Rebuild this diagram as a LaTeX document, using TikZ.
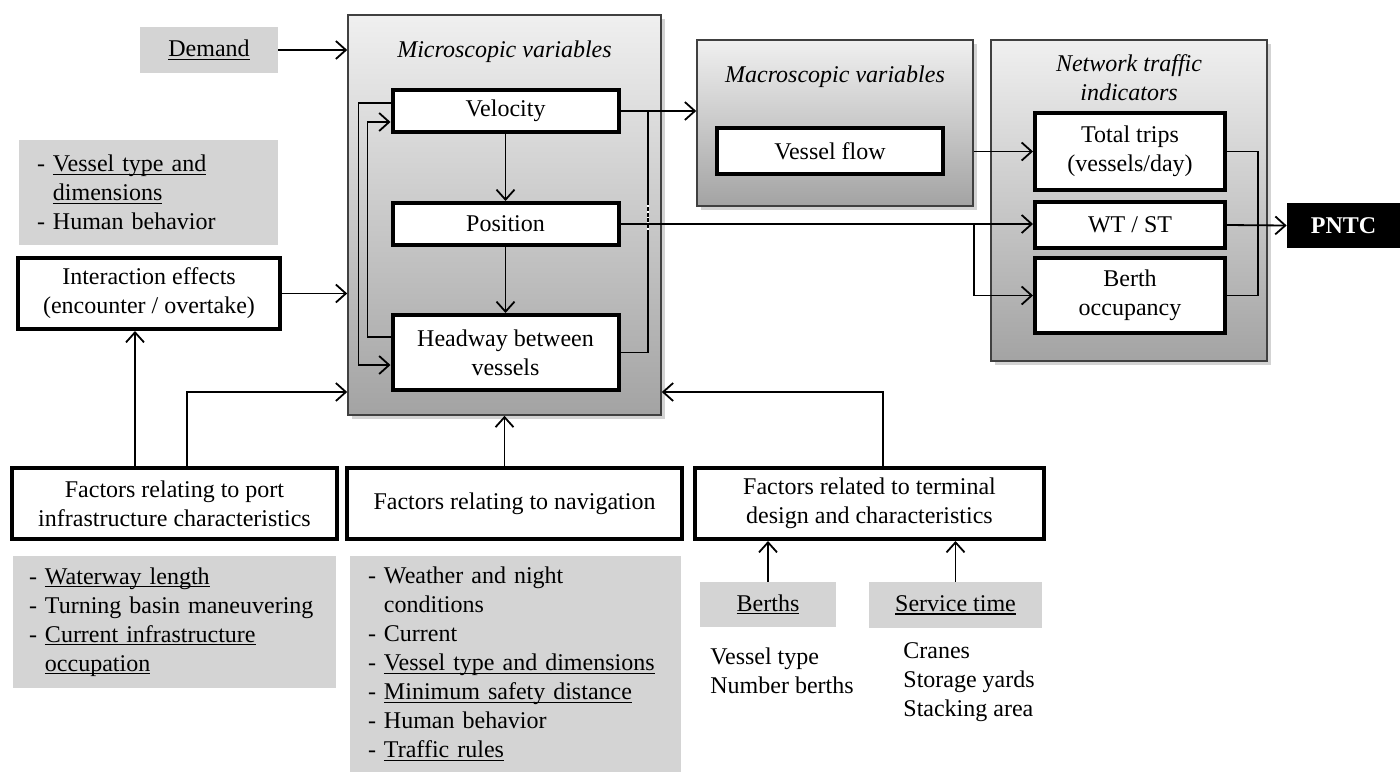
\documentclass[tikz,border=0pt]{standalone}
\usepackage{fontspec}
\setmainfont{Liberation Serif}
\usetikzlibrary{arrows.meta, shadows, calc}
\newcommand{\undl}[1]{\setbox0\hbox{#1}\rlap{\rule[-1.6pt]{\wd0}{0.55pt}}\box0}

\begin{document}
\begin{tikzpicture}[x=0.5pt, y=-0.5pt,
        font=\fontsize{12}{14.5}\selectfont,
        panel/.style={draw=black!75, line width=0.8pt, top color=black!6, bottom color=black!36,
            drop shadow={opacity=0.35, shadow xshift=2pt, shadow yshift=-2pt}},
        paneltitle/.style={align=center, inner sep=0pt, font=\fontsize{12}{14.5}\selectfont\itshape},
        var/.style={draw, line width=2pt, fill=white, align=center, inner sep=0pt},
        greybox/.style={fill=black!17, inner sep=0pt},
        itemlist/.style={align=left, inner sep=0pt, anchor=west},
        conn/.style={line width=0.9pt, -{Straight Barb[length=5pt, width=9pt]}},
        link/.style={line width=0.9pt}]
    \useasboundingbox (0,0) rectangle (1400,772);
    \def\hw{113pt}  % width of the variable boxes
    % panels
    \node[panel, minimum width=156.5pt, minimum height=200pt] (micro) at (504.5,215) {};
    \node[paneltitle] (microtitle) at (504.5,52) {Microscopic variables};
    \node[panel, minimum width=138pt, minimum height=83pt] (macro) at (835,123) {};
    \node[paneltitle] (macrotitle) at (835,77) {Macroscopic variables};
    \node[panel, minimum width=138pt, minimum height=160.5pt] (network) at (1129,200.5) {};
    \node[paneltitle] (nettitle) at (1129,78) {Network traffic\\indicators};
    % variables
    \node[var, minimum width=\hw, minimum height=21pt] (velocity) at (505.5,111) {Velocity};
    \node[var, minimum width=\hw, minimum height=21pt] (position) at (505.5,224) {Position};
    \node[var, minimum width=\hw, minimum height=37.5pt] (headway) at (505.5,352.5) {Headway between\\vessels};
    \node[var, minimum width=\hw, minimum height=23pt] (vflow) at (830,151) {Vessel flow};
    \node[var, minimum width=95pt, minimum height=38.5pt] (trips) at (1130,151.5) {Total trips\\(vessels/day)};
    \node[var, minimum width=95pt, minimum height=23pt] (wtst) at (1130,225) {WT / ST};
    \node[var, minimum width=95pt, minimum height=37.5pt] (berth) at (1130,295.5) {Berth\\occupancy};
    \node[fill=black, text=white, inner sep=0pt, minimum width=56.5pt, minimum height=22.5pt,
        font=\fontsize{12}{14.5}\selectfont\bfseries] (pntc) at (1343.5,225.5) {PNTC};
    % inputs
    \node[greybox, minimum width=69pt, minimum height=23pt] (demand) at (209,50) {\undl{Demand}};
    \node[greybox, align=left, text width=111.5pt, inner xsep=9pt, minimum height=52.5pt] (vtype) at (148.5,192.5)
        {- \undl{Vessel type and}\\\phantom{- }\undl{dimensions}\\- Human behavior};
    \node[var, minimum width=131pt, minimum height=35.5pt] (interact) at (149,293.5) {Interaction effects\\(encounter / overtake)};
    \node[var, minimum width=162.5pt, minimum height=35.5pt] (port) at (174.5,503.5) {Factors relating to port\\infrastructure characteristics};
    \node[var, minimum width=167.5pt, minimum height=35.5pt] (navig) at (514.5,503.5) {Factors relating to navigation};
    \node[var, minimum width=174.5pt, minimum height=35.5pt] (term) at (869.5,503.5) {Factors related to terminal\\design and characteristics};
    \node[greybox, align=left, text width=145.5pt, inner xsep=8pt, minimum height=66pt] (portlist) at (174.5,622)
        {- \undl{Waterway length}\\- Turning basin maneuvering\\- \undl{Current infrastructure}\\\phantom{- }\undl{occupation}};
    \node[greybox, align=left, text width=147.5pt, inner xsep=9pt, minimum height=108pt] (navlist) at (515.5,664)
        {- Weather and night\\\phantom{- }conditions\\- Current\\- \undl{Vessel type and dimensions}\\- \undl{Minimum safety distance}\\- Human behavior\\- \undl{Traffic rules}};
    \node[greybox, minimum width=68pt, minimum height=22.5pt] (berths) at (768,604.5) {\undl{Berths}};
    \node[greybox, minimum width=86.5pt, minimum height=23pt] (service) at (955.5,605) {\undl{Service time}};
    \node[itemlist] (berthitems) at (710,671) {Vessel type\\Number berths};
    \node[itemlist] (serviceitems) at (903,682) {Cranes\\Storage yards\\Stacking area};
    % connectors
    \draw[conn] (demand.east) -- (demand.east -| micro.west);
    \draw[conn] (interact.east) -- (interact.east -| micro.west);
    \draw[conn] ([xshift=-7pt]interact.south |- port.north) -- ([xshift=-7pt]interact.south);
    \draw[conn] ([xshift=6.25pt]port.north) |- (micro.west |- headway.south);
    \draw[conn] (navig.north -| micro.south) -- (micro.south);
    \draw[conn] ([xshift=6.75pt]term.north) |- (micro.east |- headway.south);
    \foreach \b in {berths, service}
        \draw[conn] (\b.north) -- (\b.north |- term.south);
    \draw[conn] (velocity) -- (position);
    \draw[conn] (position) -- (headway);
    \draw[conn] ([yshift=4pt]velocity.west) -- ++(-16pt,0) |- ([yshift=-6.25pt]headway.west);
    \draw[conn] ([yshift=7.75pt]headway.west) -- ++(-11.5pt,0) |- ([yshift=-5.5pt]velocity.west);
    \coordinate (tap) at (648,111);
    \draw[conn] (velocity.east) -- (velocity.east -| macro.west);
    \draw[link] (headway.east) -| (tap);
    \draw[white, dotted, line width=0.9pt] (648,205) -- (648,232);
    \draw[conn] (position.east) -- (position.east -| wtst.west);
    \draw[conn] (position.east -| macro.east) |- (berth.west);
    \draw[conn] (trips.west -| macro.east) -- (trips.west);
    \draw[link] (trips.east) -- ++(15.5pt,0) |- (berth.east);
    \draw[conn] (wtst.east) -- (pntc.west);
\end{tikzpicture}
\end{document}
